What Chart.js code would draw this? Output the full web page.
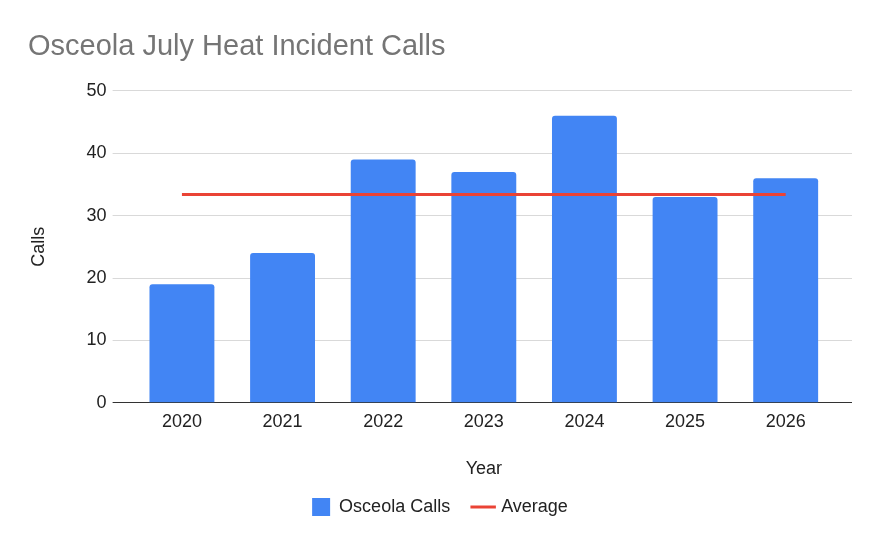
<!DOCTYPE html>
<html>
<head>
<meta charset="utf-8">
<script src="https://cdn.jsdelivr.net/npm/chart.js@4/dist/chart.umd.min.js"></script>
<style>
  html, body { margin: 0; padding: 0; background: #fff; }
  #wrap { width: 880px; height: 544px; }
</style>
</head>
<body>
<div id="wrap"><canvas id="heatChart" width="880" height="544"></canvas></div>
<script>
const years = ['2020', '2021', '2022', '2023', '2024', '2025', '2026'];
const osceolaCalls = [19, 24, 39, 37, 46, 33, 36];
const averageCalls = [33.4, 33.4, 33.4, 33.4, 33.4, 33.4, 33.4];
const yTicks = [0, 10, 20, 30, 40, 50];

const font = '"Liberation Sans", Arial, sans-serif';
const gridColor = '#d9d9d9';

new Chart(document.getElementById('heatChart'), {
    data: {
        labels: years,
        datasets: [{
            type: 'line',
            label: 'Average',
            data: averageCalls,
            borderColor: '#ea4335',
            backgroundColor: '#ea4335',
            borderWidth: 3,
            pointRadius: 0,
            pointStyle: 'line',
            order: 0
        }, {
            type: 'bar',
            label: 'Osceola Calls',
            data: osceolaCalls,
            backgroundColor: '#4285f4',
            borderRadius: 3,
            borderSkipped: 'bottom',
            categoryPercentage: 0.645,
            barPercentage: 1,
            pointStyle: 'rect',
            order: 1
        }]
    },
    options: {
        responsive: false,
        animation: false,
        layout: { padding: { left: 28, right: 28, top: 14, bottom: 18 } },
        plugins: {
            title: {
                display: true,
                text: 'Osceola July Heat Incident Calls',
                align: 'start',
                color: '#757575',
                font: { family: font, size: 29, weight: 'normal' },
                padding: { top: 16, bottom: 26 }
            },
            legend: {
                position: 'bottom',
                reverse: true,
                labels: {
                    usePointStyle: true,
                    color: '#222',
                    font: { family: font, size: 18 },
                    boxWidth: 18,
                    boxHeight: 18,
                    padding: 24
                }
            },
            tooltip: { enabled: false }
        },
        scales: {
            x: {
                grid: { display: false },
                border: { color: '#333', width: 1 },
                ticks: { color: '#222', font: { family: font, size: 18 }, padding: 0 },
                title: {
                    display: true,
                    text: 'Year',
                    color: '#222',
                    font: { family: font, size: 18 },
                    padding: { top: 26, bottom: -6 }
                }
            },
            y: {
                min: 0,
                max: 50,
                afterBuildTicks: axis => { axis.ticks = yTicks.map(v => ({ value: v })); },
                grid: {
                    color: c => (c.tick && c.tick.value === 0 ? '#333' : gridColor),
                    tickLength: 19
                },
                border: { display: false },
                ticks: { color: '#222', font: { family: font, size: 18 }, padding: 6 },
                title: {
                    display: true,
                    text: 'Calls',
                    color: '#222',
                    font: { family: font, size: 18 },
                    padding: { top: 0, bottom: 31 }
                }
            },
            yRight: {
                position: 'right',
                min: 0,
                max: 50,
                afterBuildTicks: axis => { axis.ticks = yTicks.map(v => ({ value: v })); },
                grid: {
                    drawOnChartArea: false,
                    color: c => (c.tick && c.tick.value === 0 ? '#333' : gridColor),
                    tickLength: 16
                },
                border: { display: false },
                ticks: { display: false }
            }
        }
    }
});
</script>
</body>
</html>
